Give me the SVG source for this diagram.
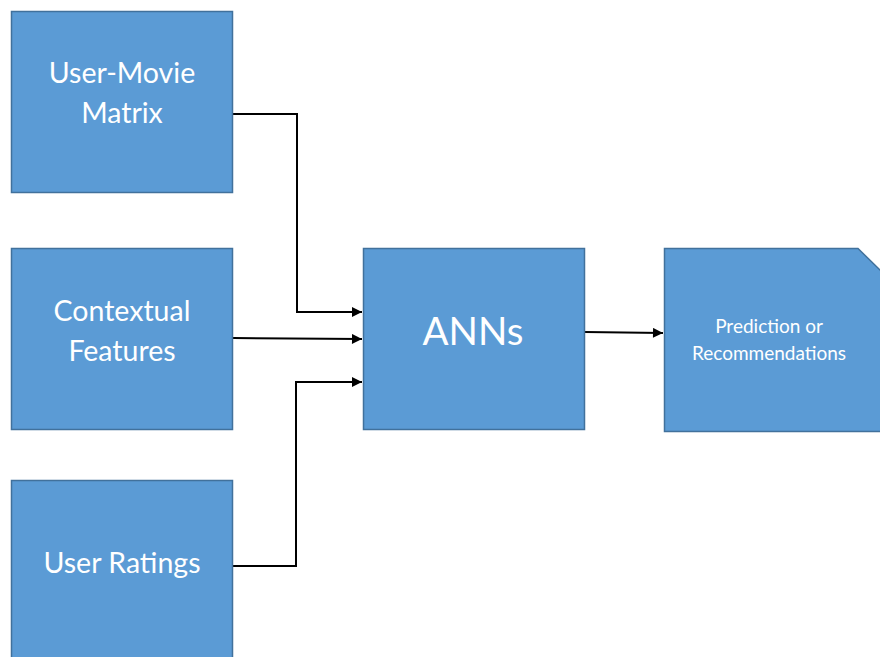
<svg xmlns="http://www.w3.org/2000/svg" width="880" height="657" viewBox="0 0 880 657">
  <defs>
    <marker id="arrow" viewBox="0 0 10 10" refX="10" refY="5" markerWidth="11" markerHeight="10" markerUnits="userSpaceOnUse" orient="auto">
      <path d="M0,0 L10,5 L0,10 z" fill="#000"/>
    </marker>
  </defs>
  <style>
    .box { fill: #5B9BD5; stroke: #41719C; stroke-width: 1.5; }
    .lbl { font-family: Lato, "Open Sans", "Liberation Sans", sans-serif; fill: #FFFFFF; text-anchor: middle; }
    .conn { fill: none; stroke: #000; stroke-width: 2; marker-end: url(#arrow); }
  </style>
  <rect width="880" height="657" fill="#FFFFFF"/>

  <g id="connectors">
    <polyline class="conn" points="233,114 297,114 297,312 362,312"/>
    <polyline class="conn" points="233,338 362,339"/>
    <polyline class="conn" points="233,566 296,566 296,382 362,382"/>
    <polyline class="conn" points="585,332 663,333"/>
  </g>

  <g id="user-movie-matrix">
    <rect class="box" x="11.5" y="11.5" width="221" height="181"/>
    <text class="lbl" font-size="28.5" x="122" y="83">User-Movie</text>
    <text class="lbl" font-size="28.5" x="122" y="123">Matrix</text>
  </g>

  <g id="contextual-features">
    <rect class="box" x="11.5" y="248.5" width="221" height="181"/>
    <text class="lbl" font-size="28.5" x="122" y="321">Contextual</text>
    <text class="lbl" font-size="28.5" x="122" y="361">Features</text>
  </g>

  <g id="user-ratings">
    <rect class="box" x="11.5" y="480.5" width="221" height="181"/>
    <text class="lbl" font-size="28.5" x="122" y="573">User Ratings</text>
  </g>

  <g id="anns">
    <rect class="box" x="363.5" y="248.5" width="221" height="181"/>
    <text class="lbl" font-size="38.5" x="473" y="345">ANNs</text>
  </g>

  <g id="prediction">
    <path class="box" d="M664.5,248.5 H858 L882,272 V431.5 H664.5 Z"/>
    <text class="lbl" font-size="19" x="769" y="333">Prediction or</text>
    <text class="lbl" font-size="19" x="769" y="360">Recommendations</text>
  </g>
</svg>
